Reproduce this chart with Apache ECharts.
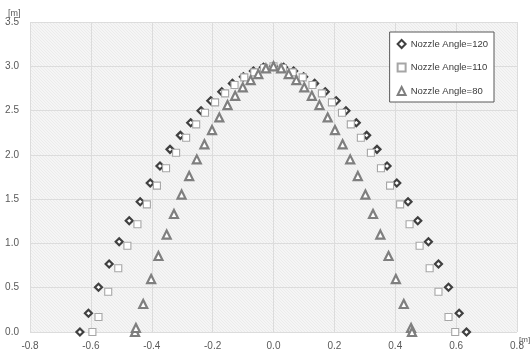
<!DOCTYPE html>
<html>
<head>
<meta charset="utf-8">
<script src="https://cdn.jsdelivr.net/npm/echarts@6/dist/echarts.min.js"></script>
<style>
  html, body { margin: 0; padding: 0; background: #fff; }
  #chart { width: 532px; height: 353px; }
</style>
</head>
<body>
<div id="chart"></div>
<script>
// values, bottom-left -> apex -> bottom-right
const x120 = [-0.636, -0.608, -0.575, -0.540, -0.507, -0.474, -0.438, -0.405, -0.373, -0.340, -0.306, -0.272, -0.238, -0.206, -0.170, -0.135, -0.099, -0.066, -0.033, 0,
  0.033, 0.066, 0.099, 0.135, 0.170, 0.206, 0.238, 0.272, 0.306, 0.340, 0.373, 0.405, 0.442, 0.474, 0.509, 0.542, 0.575, 0.610, 0.634];
const y120 = [0, 0.211, 0.505, 0.767, 1.019, 1.256, 1.470, 1.682, 1.874, 2.062, 2.220, 2.362, 2.498, 2.611, 2.712, 2.807, 2.881, 2.946, 2.988, 3.0,
  2.988, 2.946, 2.881, 2.807, 2.712, 2.611, 2.498, 2.362, 2.220, 2.062, 1.874, 1.682, 1.470, 1.256, 1.019, 0.767, 0.505, 0.211, 0];

const x110 = [-0.595, -0.575, -0.543, -0.510, -0.480, -0.447, -0.416, -0.383, -0.353, -0.320, -0.287, -0.254, -0.225, -0.192, -0.159, -0.128, -0.096, -0.063, -0.031, 0,
  0.031, 0.063, 0.096, 0.128, 0.159, 0.192, 0.225, 0.254, 0.287, 0.320, 0.353, 0.383, 0.416, 0.447, 0.480, 0.513, 0.542, 0.575, 0.597];
const y110 = [0, 0.169, 0.455, 0.719, 0.974, 1.216, 1.441, 1.653, 1.848, 2.024, 2.193, 2.344, 2.475, 2.593, 2.694, 2.788, 2.875, 2.931, 2.980, 3.0,
  2.980, 2.931, 2.875, 2.788, 2.694, 2.593, 2.475, 2.344, 2.193, 2.024, 1.848, 1.653, 1.441, 1.216, 0.974, 0.719, 0.455, 0.169, 0];

const x80 = [-0.455, -0.452, -0.428, -0.402, -0.378, -0.351, -0.327, -0.302, -0.277, -0.252, -0.227, -0.202, -0.178, -0.151, -0.126, -0.101, -0.075, -0.050, -0.025, 0,
  0.025, 0.050, 0.075, 0.101, 0.126, 0.151, 0.178, 0.202, 0.227, 0.252, 0.277, 0.302, 0.327, 0.351, 0.378, 0.402, 0.428, 0.452, 0.455];
const y80 = [0, 0.045, 0.316, 0.598, 0.858, 1.100, 1.332, 1.552, 1.761, 1.949, 2.119, 2.280, 2.423, 2.562, 2.667, 2.762, 2.844, 2.912, 2.976, 3.0,
  2.976, 2.912, 2.844, 2.762, 2.667, 2.562, 2.423, 2.280, 2.119, 1.949, 1.761, 1.552, 1.332, 1.100, 0.858, 0.598, 0.316, 0.045, 0];

const seriesNames = ["Nozzle Angle=120", "Nozzle Angle=110", "Nozzle Angle=80"];

const pairs = (xs, ys) => xs.map((x, i) => [x, ys[i]]);

// faint diagonal hatch like the plot area fill
function hatch() {
  const c = document.createElement("canvas");
  c.width = 3;
  c.height = 3;
  const g = c.getContext("2d");
  g.fillStyle = "#f5f5f5";
  g.fillRect(0, 0, 3, 3);
  g.fillStyle = "#ebebeb";
  for (let i = 0; i < 3; i++) g.fillRect(i, i, 1, 1);
  return c;
}

const font = "'Liberation Sans Narrow', 'Liberation Sans', sans-serif";
const chart = echarts.init(document.getElementById("chart"));

chart.setOption({
  animation: false,
  textStyle: { fontFamily: font },
  grid: {
    left: 30, right: 15, top: 22, bottom: 21,
    show: true,
    borderWidth: 0,
    backgroundColor: { image: hatch(), repeat: "repeat" },
  },
  xAxis: {
    type: "value",
    min: -0.8, max: 0.8, interval: 0.2,
    axisLine: { show: false },
    axisTick: { show: false },
    axisLabel: { color: "#595959", fontSize: 10, margin: 9, formatter: (v) => v.toFixed(1) },
    splitLine: { lineStyle: { color: "#dcdcdc" } },
  },
  yAxis: {
    type: "value",
    min: 0, max: 3.5, interval: 0.5,
    axisLine: { show: false },
    axisTick: { show: false },
    axisLabel: { color: "#595959", fontSize: 10, margin: 11, formatter: (v) => v.toFixed(1) },
    splitLine: { lineStyle: { color: "#dcdcdc" } },
  },
  legend: {
    orient: "vertical",
    right: 38, top: 32,
    padding: [7, 6, 6, 7],
    itemGap: 13.5,
    itemWidth: 8, itemHeight: 8,
    backgroundColor: "#fff",
    borderColor: "#595959",
    borderWidth: 1,
    textStyle: { color: "#3a3a3a", fontSize: 9.5, fontFamily: font },
    data: seriesNames,
  },
  graphic: [
    { type: "text", left: 8, top: 9, style: { text: "[m]", fill: "#595959", fontSize: 9, fontFamily: font } },
    { type: "text", left: 519, top: 336, style: { text: "[m]", fill: "#595959", fontSize: 8, fontFamily: font } },
  ],
  series: [
    {
      name: seriesNames[0], type: "scatter", symbol: "diamond", symbolSize: 7,
      itemStyle: { color: "#fff", borderColor: "#404040", borderWidth: 2.2, opacity: 1 },
      data: pairs(x120, y120),
    },
    {
      name: seriesNames[1], type: "scatter", symbol: "rect", symbolSize: 7,
      itemStyle: { color: "#fff", borderColor: "#a6a6a6", borderWidth: 1.1, opacity: 1 },
      data: pairs(x110, y110),
    },
    {
      name: seriesNames[2], type: "scatter", symbol: "triangle", symbolSize: 8,
      itemStyle: { color: "#fff", borderColor: "#7f7f7f", borderWidth: 2.2, opacity: 1 },
      data: pairs(x80, y80),
    },
  ],
});
</script>
</body>
</html>
